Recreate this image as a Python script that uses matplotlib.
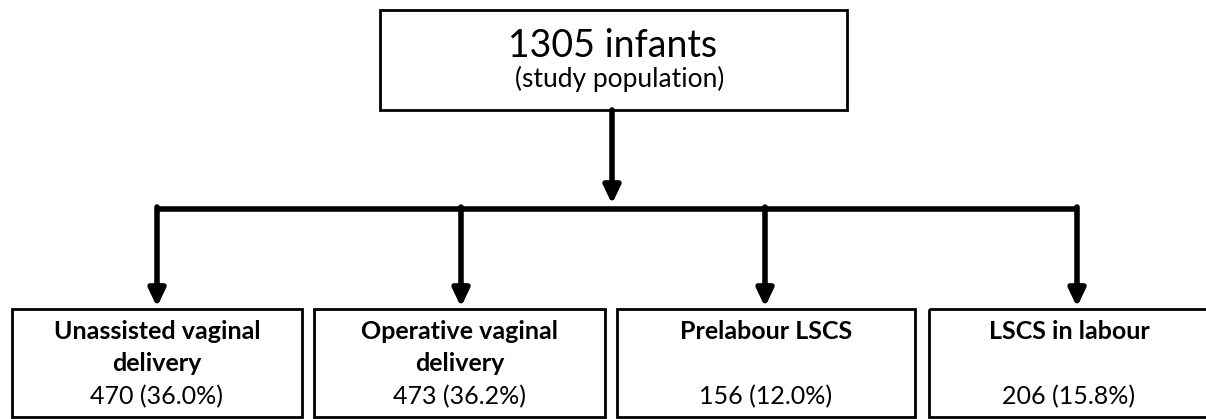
import matplotlib
matplotlib.use("Agg")
import matplotlib.pyplot as plt
from matplotlib.patches import Rectangle

plt.rcParams['font.family'] = ['Lato', 'DejaVu Sans']

total_label = "1305 infants"
total_sub = "(study population)"
categories = ["Unassisted vaginal\ndelivery", "Operative vaginal\ndelivery", "Prelabour LSCS", "LSCS in labour"]
counts = [470, 473, 156, 206]
percents = [36.0, 36.2, 12.0, 15.8]

W, H = 1206, 419
fig = plt.figure(figsize=(W / 100, H / 100), dpi=100)
ax = fig.add_axes([0, 0, 1, 1])
ax.set_xlim(0, W)
ax.set_ylim(H, 0)
ax.axis('off')

# top box
ax.add_patch(Rectangle((380, 10), 467, 100, fill=False, lw=2, ec='black'))
ax.text(613, 46, total_label, ha='center', va='center', fontsize=27)
ax.text(620, 79, total_sub, ha='center', va='center', fontsize=19)

# bottom boxes
box_x = [(12, 302), (314, 605), (617, 915), (929, 1209)]
arrow_x = [157, 461, 765, 1077]
box_top, box_bot = 309, 417
for (x0, x1), cat, n, p in zip(box_x, categories, counts, percents):
    ax.add_patch(Rectangle((x0, box_top), x1 - x0, box_bot - box_top, fill=False, lw=2, ec='black', clip_on=True))
    cx = (x0 + x1) / 2
    lines = cat.split("\n")
    for i, ln in enumerate(lines):
        ax.text(cx, 331 + 32 * i, ln, ha='center', va='center', fontsize=18, fontweight='bold')
    ax.text(cx, 397, f"{n} ({p:.1f}%)", ha='center', va='center', fontsize=18)

# connectors
lw = 4
ax.plot([arrow_x[0] - 2, arrow_x[-1] + 2], [208.5, 208.5], color='black', lw=lw, solid_capstyle='butt')
style = '-|>,head_width=0.5,head_length=1.05'
ax.annotate('', xy=(612, 204), xytext=(612, 110),
            arrowprops=dict(arrowstyle=style, lw=lw, color='black', shrinkA=0, shrinkB=0))
for xa in arrow_x:
    ax.annotate('', xy=(xa, 307), xytext=(xa, 207),
                arrowprops=dict(arrowstyle=style, lw=lw, color='black', shrinkA=0, shrinkB=0))

fig.savefig("out.png", dpi=100)
